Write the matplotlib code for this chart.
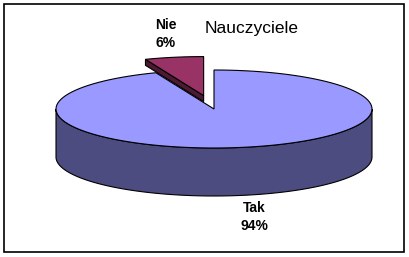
import numpy as np
import matplotlib
matplotlib.use("Agg")
import matplotlib.pyplot as plt
from matplotlib.patches import Polygon, Rectangle

# --- dane ---
kategorie = ["Tak", "Nie"]
wartosci = [94, 6]
kolory_gora = ["#9999FF", "#993366"]
kolory_bok = ["#4C4C80", "#4D1A33"]
tytul = "Nauczyciele"

plt.rcParams["font.family"] = ["Liberation Sans", "DejaVu Sans"]

fig = plt.figure(figsize=(4.09, 2.57), dpi=100)
ax = fig.add_axes([0, 0, 1, 1])
ax.set_xlim(0, 409)
ax.set_ylim(257, 0)
ax.axis("off")

# geometria "3D" tortu (w pikselach)
cx, cy = 214, 109
a, b = 158, 39
glebokosc = [48, 6]
wysuniecie = [0.0, 0.35]


def punkt(x0, y0, phi):
    return x0 + a * np.sin(phi), y0 - b * np.cos(phi)


def luk(x0, y0, p1, p2, n=120):
    t = np.linspace(p1, p2, n)
    return np.column_stack([x0 + a * np.sin(t), y0 - b * np.cos(t)])


udzialy = np.array(wartosci) / sum(wartosci) * 2 * np.pi
konce = np.cumsum(udzialy)
poczatki = konce - udzialy

# najpierw wysuniety plaster (z tylu), potem duzy
for i in [1, 0]:
    p1, p2 = poczatki[i], konce[i]
    srodek = (p1 + p2) / 2
    x0 = cx + wysuniecie[i] * a * np.sin(srodek)
    y0 = cy - wysuniecie[i] * b * np.cos(srodek)
    h = glebokosc[i]

    # sciana boczna z przodu (kat 90..270 stopni)
    s1, s2 = max(p1, np.pi / 2), min(p2, 3 * np.pi / 2)
    if s2 > s1:
        gora = luk(x0, y0, s1, s2)
        dol = gora[::-1] + [0, h]
        ax.add_patch(Polygon(np.vstack([gora, dol]), closed=True,
                             facecolor=kolory_bok[i], edgecolor="black", lw=0.8))

    # sciana promieniowa widoczna od lewej strony
    if i == 1:
        px, py = punkt(x0, y0, p1)
        sciana = [(x0, y0), (px, py), (px, py + h), (x0, y0 + h)]
        ax.add_patch(Polygon(sciana, closed=True,
                             facecolor=kolory_bok[i], edgecolor="black", lw=0.8))

    # gorna powierzchnia
    gora = np.vstack([[x0, y0], luk(x0, y0, p1, p2)])
    ax.add_patch(Polygon(gora, closed=True,
                         facecolor=kolory_gora[i], edgecolor="black", lw=0.8))

# etykiety
ax.text(252, 28, tytul, fontsize=12.5, ha="center", va="center")
ax.text(166, 34, f"{kategorie[1]}\n{wartosci[1]}%", fontsize=10,
        fontweight="bold", ha="center", va="center", linespacing=1.3)
ax.text(254, 217, f"{kategorie[0]}\n{wartosci[0]}%", fontsize=10,
        fontweight="bold", ha="center", va="center", linespacing=1.3)

# ramka
ax.add_patch(Rectangle((4, 4), 400, 248, fill=False, edgecolor="black", lw=1.2))

fig.savefig("out.png", dpi=100)
